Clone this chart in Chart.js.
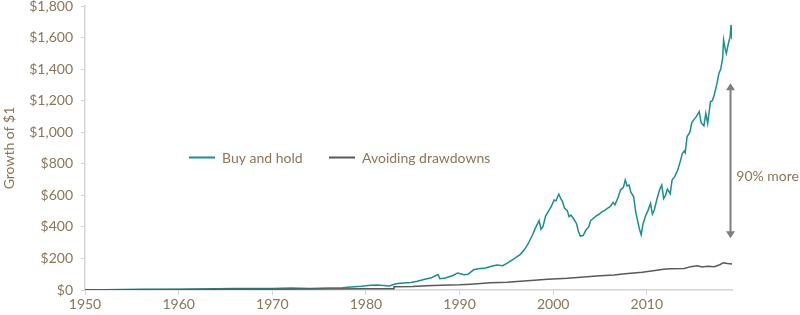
<!DOCTYPE html>
<html>
<head>
<meta charset="utf-8">
<script src="https://cdn.jsdelivr.net/npm/chart.js@4"></script>
<style>
  html, body { margin: 0; padding: 0; background: #fff; }
  #wrap { width: 800px; height: 315px; }
</style>
</head>
<body>
<div id="wrap"><canvas id="growthChart" width="800" height="315"></canvas></div>
<script>
// 數據：年份與數值
const holdYears = [1950, 1952, 1954, 1956, 1958, 1960, 1962, 1964, 1966, 1968, 1970, 1972, 1974, 1976, 1977.5,
  1978.4, 1979.5, 1980.5, 1981.2, 1982.5, 1983.2, 1984, 1984.8, 1985.5, 1986.3, 1987, 1987.7, 1987.9, 1988.5,
  1989.3, 1989.8, 1990.5, 1990.9, 1991.5, 1992, 1992.8, 1993.5, 1994, 1994.6, 1995.1, 1995.6, 1996, 1996.5,
  1996.9, 1997.3, 1997.8, 1998.1, 1998.5, 1998.7, 1998.9, 1999.2, 1999.5, 1999.8, 2000.1, 2000.3, 2000.6,
  2000.8, 2001.0, 2001.2, 2001.5, 2001.7, 2001.9, 2002.2, 2002.5, 2002.7, 2002.9, 2003.2, 2003.5, 2003.8,
  2004.0, 2004.3, 2004.6, 2004.9, 2005.2, 2005.5, 2005.8, 2006.1, 2006.4, 2006.6, 2006.9, 2007.2, 2007.5,
  2007.7, 2007.9, 2008.1, 2008.3, 2008.6, 2008.8, 2009.0, 2009.2, 2009.4, 2009.6, 2009.9, 2010.1, 2010.4,
  2010.6, 2010.8, 2011.1, 2011.4, 2011.6, 2011.8, 2012.0, 2012.2, 2012.5, 2012.7, 2013.0, 2013.3, 2013.6,
  2013.8, 2014.0, 2014.1, 2014.3, 2014.6, 2014.8, 2015.0, 2015.3, 2015.6, 2015.8, 2016.1, 2016.3, 2016.5,
  2016.8, 2017.0, 2017.2, 2017.5, 2017.7, 2017.9, 2018.1, 2018.2, 2018.4, 2018.5, 2018.7, 2018.9, 2019.0, 2019.1];
const holdValues = [1, 2, 3, 4, 4, 5, 6, 8, 9, 10, 10, 12, 9, 12, 14,
  19, 24, 30, 32, 26, 40, 44, 48, 56, 68, 78, 98, 72, 76,
  92, 108, 97, 100, 128, 134, 140, 152, 158, 154, 170, 190, 205, 226,
  253, 290, 350, 392, 440, 385, 400, 470, 500, 530, 570, 565, 608,
  580, 560, 520, 505, 465, 475, 450, 420, 370, 342, 345, 380, 400,
  440, 455, 470, 480, 495, 505, 518, 530, 555, 540, 581, 635, 650,
  697, 660, 665, 620, 591, 500, 444, 390, 349, 420, 475, 500, 549,
  480, 507, 580, 640, 665, 580, 600, 640, 610, 697, 720, 760, 820,
  866, 880, 870, 971, 1000, 1060, 1077, 1100, 1130, 1060, 1040, 1120, 1056,
  1193, 1200, 1236, 1310, 1373, 1400, 1469, 1585, 1520, 1500, 1560, 1605, 1680, 1590];

const avoidYears = [1950, 1955, 1960, 1965, 1970, 1975, 1980, 1982.9, 1983.0, 1985, 1986.5, 1988, 1990, 1991.2,
  1993.3, 1995.1, 1996.5, 1998, 1999.4, 2000.5, 2001.5, 2002.6, 2003.6, 2005, 2006.5, 2007.4, 2008.3, 2009.5,
  2010.5, 2011.8, 2012.5, 2014, 2014.7, 2015.4, 2015.9, 2016.5, 2017.2, 2017.8, 2018.2, 2018.6, 2019.1];
const avoidValues = [1, 2, 3, 4, 5, 6, 8, 8, 20, 22, 27, 30, 33, 37,
  46, 49, 55, 62, 68, 72, 75, 80, 84, 90, 95, 102, 106, 112,
  120, 131, 135, 137, 148, 154, 146, 150, 148, 160, 173, 168, 165];

const yTicks = [0, 200, 400, 600, 800, 1000, 1200, 1400, 1600, 1800];
const xTicks = [1950, 1960, 1970, 1980, 1990, 2000, 2010];
const seriesNames = ['Buy and hold', 'Avoiding drawdowns'];

const textColor = '#8b7658';
const tealColor = '#1b8f8b';
const greyColor = '#595959';
const axisColor = '#d4d4d4';
const fontSize = 14;

const toPoints = (xs, ys) => xs.map((x, i) => ({ x: x, y: ys[i] }));

// 自訂圖例與箭頭註解
const annotations = {
  id: 'annotations',
  afterDatasetsDraw(chart) {
    const ctx = chart.ctx;
    const xs = chart.scales.x, ys = chart.scales.y;
    ctx.save();
    ctx.font = fontSize + 'px Lato';
    ctx.textBaseline = 'middle';
    ctx.lineWidth = 2;

    // 圖例
    const legendY = 157.5;
    const items = [
      { name: seriesNames[0], color: tealColor, x: 189 },
      { name: seriesNames[1], color: greyColor, x: 329 }
    ];
    items.forEach(it => {
      ctx.strokeStyle = it.color;
      ctx.beginPath();
      ctx.moveTo(it.x, legendY);
      ctx.lineTo(it.x + 26, legendY);
      ctx.stroke();
      ctx.fillStyle = textColor;
      ctx.textAlign = 'left';
      ctx.fillText(it.name, it.x + 33, legendY + 1);
    });

    // 箭頭
    const ax = Math.round(xs.getPixelForValue(2018.9)) + 0.5;
    const top = ys.getPixelForValue(1310);
    const bot = ys.getPixelForValue(328);
    ctx.strokeStyle = '#7f7f7f';
    ctx.fillStyle = '#7f7f7f';
    ctx.beginPath();
    ctx.moveTo(ax, top + 5);
    ctx.lineTo(ax, bot - 5);
    ctx.stroke();
    ctx.beginPath();
    ctx.moveTo(ax, top); ctx.lineTo(ax - 4.5, top + 7); ctx.lineTo(ax + 4.5, top + 7); ctx.closePath();
    ctx.fill();
    ctx.beginPath();
    ctx.moveTo(ax, bot); ctx.lineTo(ax - 4.5, bot - 7); ctx.lineTo(ax + 4.5, bot - 7); ctx.closePath();
    ctx.fill();

    ctx.fillStyle = textColor;
    ctx.textAlign = 'right';
    ctx.fillText('90% more', 799, ys.getPixelForValue(720));
    ctx.restore();
  }
};

document.addEventListener('DOMContentLoaded', () => {
  const ctx = document.getElementById('growthChart').getContext('2d');
  new Chart(ctx, {
    type: 'line',
    data: {
      datasets: [{
        label: seriesNames[0],
        data: toPoints(holdYears, holdValues),
        borderColor: tealColor,
        borderWidth: 1.5,
        pointRadius: 0,
        tension: 0,
        order: 1
      }, {
        label: seriesNames[1],
        data: toPoints(avoidYears, avoidValues),
        borderColor: greyColor,
        borderWidth: 1.5,
        pointRadius: 0,
        tension: 0,
        order: 0
      }]
    },
    options: {
      responsive: false,
      animation: false,
      layout: { padding: { top: 0, right: 68, bottom: 0, left: 0 } },
      plugins: { legend: { display: false }, tooltip: { enabled: false } },
      scales: {
        x: {
          type: 'linear',
          min: 1950,
          max: 2019.1,
          afterBuildTicks: s => { s.ticks = xTicks.map(v => ({ value: v })); },
          ticks: {
            color: textColor,
            font: { family: 'Lato', size: fontSize },
            padding: 1,
            maxRotation: 0,
            callback: v => String(v)
          },
          grid: { drawOnChartArea: false, color: axisColor, tickLength: 5 },
          border: { color: axisColor, width: 1.5 },
          afterFit: s => { s.height = 25; }
        },
        y: {
          min: 0,
          max: 1800,
          afterBuildTicks: s => { s.ticks = yTicks.map(v => ({ value: v })); },
          ticks: {
            color: textColor,
            font: { family: 'Lato', size: fontSize },
            padding: 8,
            callback: v => '$' + v.toLocaleString('en-US')
          },
          grid: { drawOnChartArea: false, color: axisColor, tickLength: 4 },
          border: { color: axisColor, width: 1.5 },
          title: {
            display: true,
            text: 'Growth of $1',
            color: textColor,
            font: { family: 'Lato', size: fontSize },
            padding: { top: 1, bottom: 0 }
          },
          afterFit: s => { s.width = 85; s.paddingTop = 6; }
        }
      }
    },
    plugins: [annotations]
  });
});
</script>
</body>
</html>
